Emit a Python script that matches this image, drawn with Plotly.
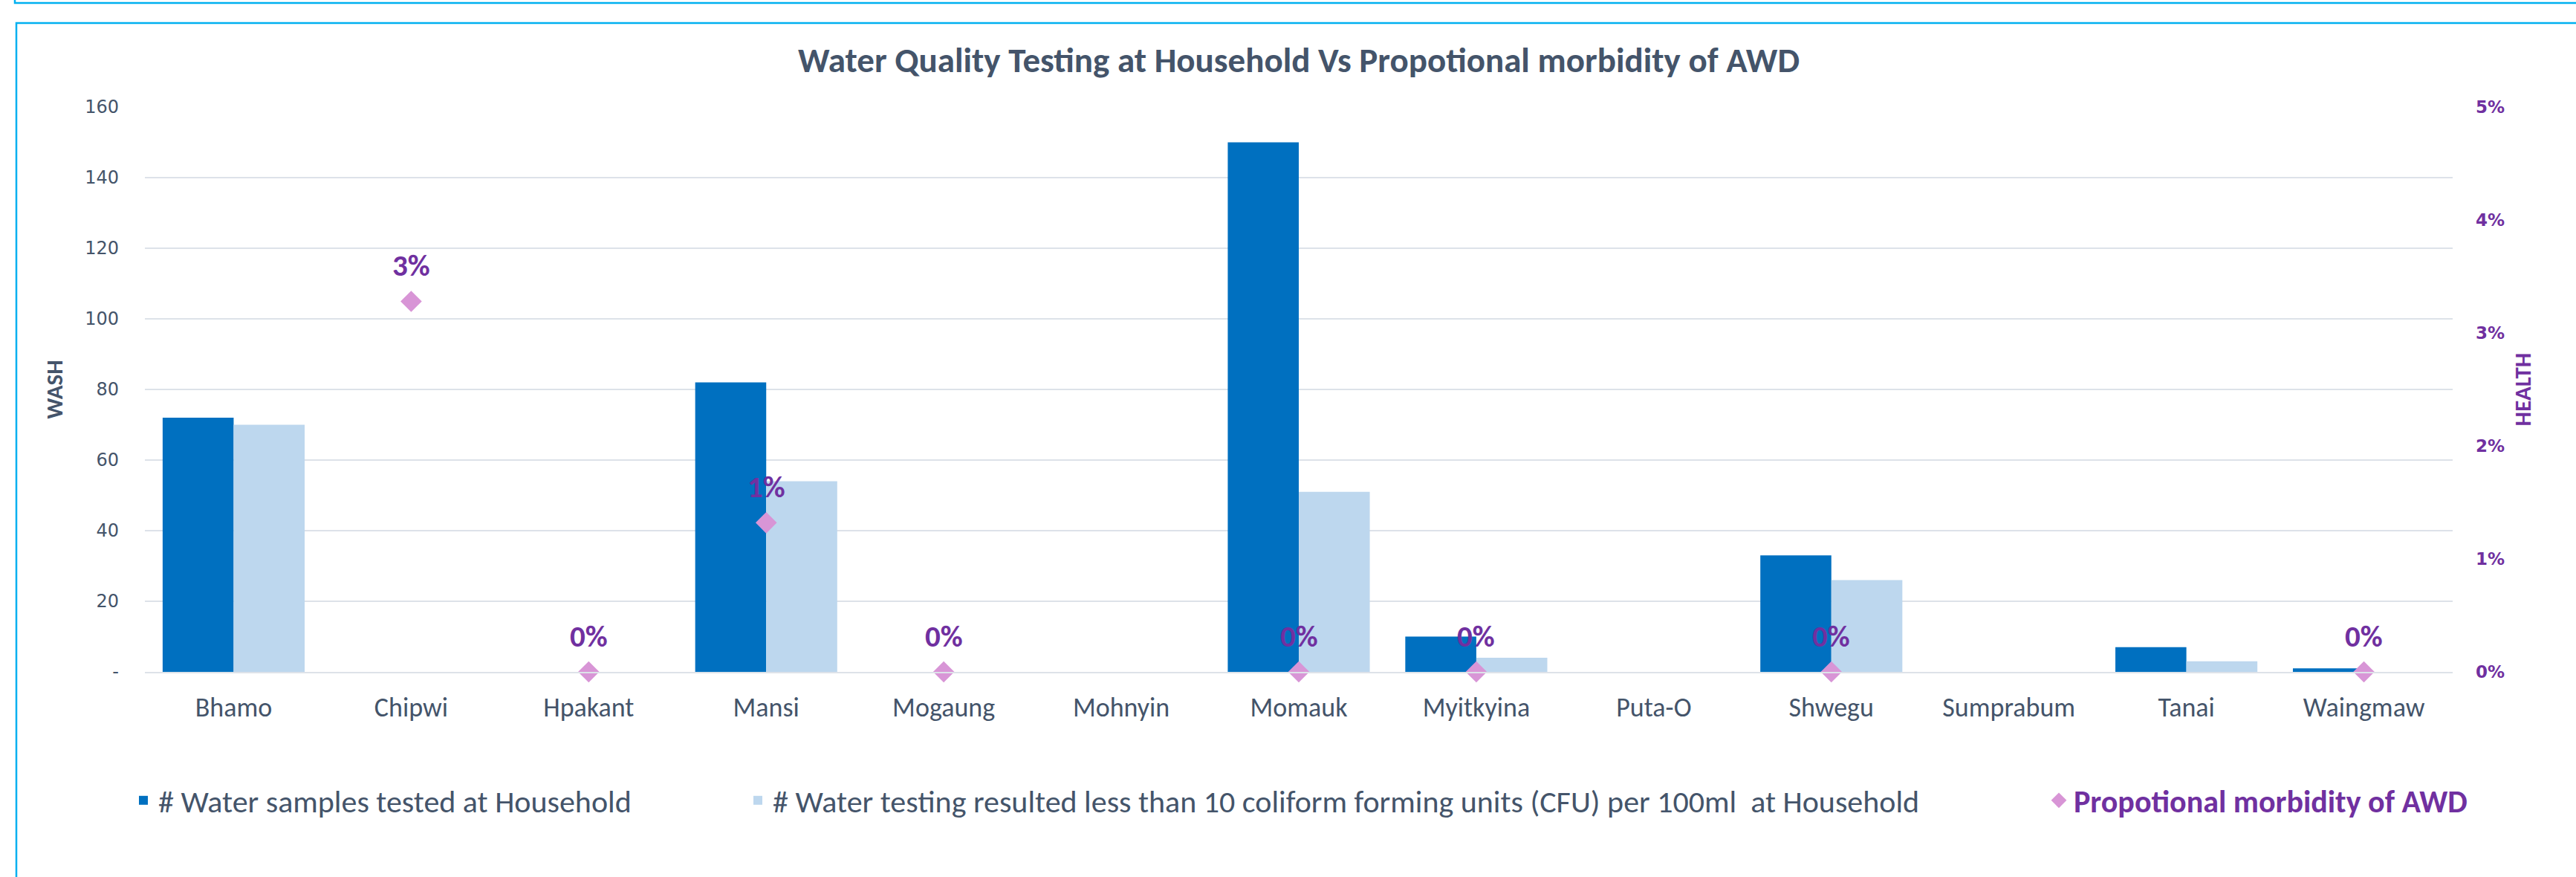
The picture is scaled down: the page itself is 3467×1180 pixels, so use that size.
import plotly.graph_objects as go

# ---------------- data ----------------
categories = ["Bhamo", "Chipwi", "Hpakant", "Mansi", "Mogaung", "Mohnyin", "Momauk",
              "Myitkyina", "Puta-O", "Shwegu", "Sumprabum", "Tanai", "Waingmaw"]
samples_tested = [72, 0, 0, 82, 0, 0, 150, 10, 0, 33, 0, 7, 1]
samples_below_10cfu = [70, 0, 0, 54, 0, 0, 51, 4, 0, 26, 0, 3, 0]
awd_morbidity = [None, 0.0328, 0.0, 0.0132, 0.0, None, 0.0, 0.0, None, 0.0, None, None, 0.0]

wash_tickvals = [0, 20, 40, 60, 80, 100, 120, 140, 160]
wash_ticktext = ["-", "20", "40", "60", "80", "100", "120", "140", "160"]
health_tickvals = [0, 0.01, 0.02, 0.03, 0.04, 0.05]

name_tested = "# Water samples tested at Household"
name_below = "# Water testing resulted less than 10 coliform forming units (CFU) per 100ml  at Household"
name_awd = "Propotional morbidity of AWD"
chart_title = "Water Quality Testing at Household Vs Propotional morbidity of AWD"
left_title = "WASH"
right_title = "HEALTH"

# ---------------- styles ----------------
W, H = 3467, 1180
ML, MR, MT, MB = 195, 166, 144, 276
PW, PH = W - ML - MR, H - MT - MB
FONT = "Calibri, Carlito, Lato, sans-serif"
NUMFONT = "DejaVu Sans, Verdana, sans-serif"
SLATE = "#44546A"
PURPLE = "#7030A0"
DARK_BLUE = "#0070C0"
LIGHT_BLUE = "#BDD7EE"
ORCHID = "#D895D6"
FRAME = "#00B0F0"
GRID = "#DDE2E9"


def px_x(p):
    return (p - ML) / PW


def px_y(p):
    return (H - MB - p) / PH


fig = go.Figure()

fig.add_trace(go.Bar(
    x=categories, y=samples_tested, name=name_tested,
    marker=dict(color=DARK_BLUE, line=dict(width=0)),
    legend="legend", hoverinfo="skip",
))
fig.add_trace(go.Bar(
    x=categories, y=samples_below_10cfu, name=name_below,
    marker=dict(color=LIGHT_BLUE, line=dict(width=0)),
    legend="legend2", hoverinfo="skip",
))
fig.add_trace(go.Scatter(
    x=categories, y=awd_morbidity, name=name_awd, yaxis="y2",
    mode="markers",
    marker=dict(symbol="diamond", size=22, color=ORCHID, line=dict(width=0)),
    cliponaxis=False, legend="legend3", hoverinfo="skip",
))

# data labels for the diamonds, placed above each marker
label_annotations = [
    dict(x=c, y=v, xref="x", yref="y2", text=f"{v:.0%}", showarrow=False,
         yanchor="middle", xanchor="center", yshift=48,
         font=dict(family=FONT, size=41, color=PURPLE, weight="bold"))
    for c, v in zip(categories, awd_morbidity) if v is not None
]

legend_common = dict(orientation="h", xanchor="left", yanchor="middle",
                     y=px_y(1077), bgcolor="rgba(0,0,0,0)", borderwidth=0)

fig.update_layout(
    width=W, height=H,
    margin=dict(l=ML, r=MR, t=MT, b=MB, autoexpand=False),
    paper_bgcolor="white", plot_bgcolor="white",
    barmode="group", bargap=0.2, bargroupgap=0,
    title=dict(text="<b>" + chart_title + "</b>", x=0.5, xref="paper", xanchor="center",
               y=1 - 81 / H, yref="container", yanchor="middle",
               font=dict(family=FONT, size=47, color=SLATE)),
    xaxis=dict(
        type="category", range=[-0.5, len(categories) - 0.5], autorange=False,
        showgrid=False, showline=True, linecolor=GRID, linewidth=2,
        ticks="", tickfont=dict(family=FONT, size=36, color=SLATE),
        ticklabelstandoff=15, zeroline=False, automargin=False,
    ),
    yaxis=dict(
        range=[0, 160], tickvals=wash_tickvals, ticktext=wash_ticktext,
        showgrid=True, gridcolor=GRID, gridwidth=2, zeroline=False, showline=False,
        ticks="", tickfont=dict(family=NUMFONT, size=24, color=SLATE),
        ticklabelstandoff=34, automargin=False,
        title=dict(text="<b>" + left_title + "</b>", standoff=20,
                   font=dict(family=FONT, size=31, color=SLATE)),
    ),
    yaxis2=dict(
        overlaying="y", side="right", range=[0, 0.05], tickvals=health_tickvals,
        tickformat=".0%", showgrid=False, zeroline=False, showline=False, ticks="",
        tickfont=dict(family=NUMFONT, size=23, color=PURPLE, weight="bold"),
        ticklabelstandoff=30, automargin=False,
        title=dict(text="<b>" + right_title + "</b>", standoff=14,
                   font=dict(family=FONT, size=31, color=PURPLE)),
    ),
    legend=dict(x=px_x(173), font=dict(family=FONT, size=42, color=SLATE), **legend_common),
    legend2=dict(x=px_x(1000), font=dict(family=FONT, size=42, color=SLATE), **legend_common),
    legend3=dict(x=px_x(2751), font=dict(family=FONT, size=42, color=PURPLE, weight="bold"),
                 **legend_common),
    annotations=label_annotations,
    shapes=[
        dict(type="rect", xref="paper", yref="paper",
             x0=px_x(20), x1=px_x(W + 40), y0=px_y(-40), y1=px_y(4),
             line=dict(color=FRAME, width=2.5), fillcolor="rgba(0,0,0,0)", layer="above"),
        dict(type="rect", xref="paper", yref="paper",
             x0=px_x(22), x1=px_x(W + 40), y0=px_y(31), y1=px_y(H + 40),
             line=dict(color=FRAME, width=2.5), fillcolor="rgba(0,0,0,0)", layer="above"),
    ],
    showlegend=True,
)

fig.write_html(
    "out.html",
    config={"displayModeBar": False},
    post_script="document.body.style.margin='0';document.body.style.overflow='hidden';",
)
